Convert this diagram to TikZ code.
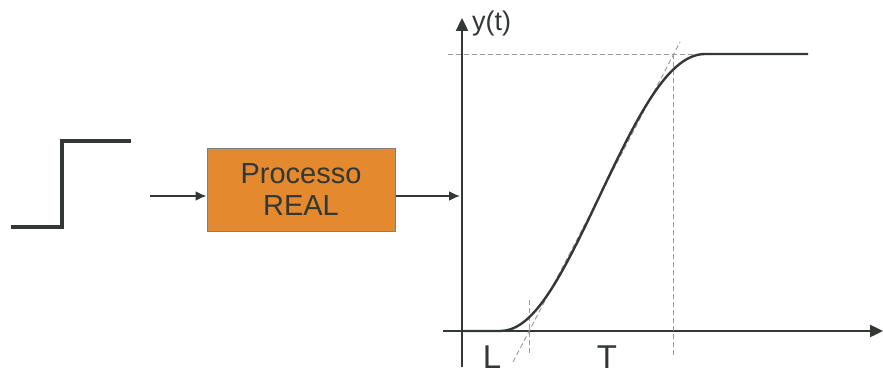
\documentclass[tikz,border=0pt]{standalone}
\usepackage{fontspec}
\setmainfont{Liberation Sans}
\usetikzlibrary{arrows.meta, positioning}
\usepackage{xcolor}
\definecolor{ink}{HTML}{333835}
\definecolor{procfill}{HTML}{E5892F}
\definecolor{procline}{HTML}{7F7F7F}
\definecolor{guide}{HTML}{999999}

\begin{document}
\begin{tikzpicture}[
      x=1pt, y=-1pt,
      proc/.style={draw=procline, line width=1pt, fill=procfill, minimum width=188pt, minimum height=82pt,
        align=center, text=ink, font=\fontsize{29}{32}\selectfont},
      arr/.style={draw=ink, line width=1.8pt, -{Latex[length=11pt, width=10pt]}},
      axis/.style={draw=ink, line width=2.4pt, -{Triangle[length=13pt, width=12pt]}},
      guideline/.style={draw=guide, line width=0.9pt, dash pattern=on 5pt off 3pt},
      lbl/.style={text=ink, inner sep=0pt}
    ]
    \useasboundingbox (0,0) rectangle (883,374);

    % step input
    \draw[ink, line width=4.5pt] (11,227) -- (62,227) -- (62,141) -- (131,141);

    % block
    \node[proc] (proc) at (301,190) {Processo\\REAL};
    \coordinate (in) at (150,196);
    \coordinate (out) at (460,196);
    \draw[arr] (in) -- (in -| proc.west);
    \draw[arr] (proc.east |- out) -- (out);

    % axes
    \coordinate (O) at (462,331);
    \coordinate (ybot) at (462,367);
    \coordinate (ytop) at (462,18);
    \coordinate (xleft) at (443,331);
    \coordinate (xright) at (883,331);
    \draw[axis] (ybot) -- (ytop);
    \draw[axis] (xleft) -- (xright);
    \node[lbl, anchor=base west, font=\fontsize{27}{27}\selectfont] (ylab) at (472,31) {y(t)};

    % guide lines
    \draw[guideline] (448,54) -- (706,54);
    \draw[guideline] (673,54) -- (673,358);
    \draw[guideline] (529,300) -- (529,355);
    \draw[guideline] (513,362) -- (680,42);

    % response
    \draw[ink, line width=2.4pt, line join=round]
      (O) -- (500,331) .. controls (530,331) and (555,290) .. (592,212)
      .. controls (632,128) and (665,54) .. (705,54) -- (808,54);

    % labels
    \node[lbl, anchor=base, font=\fontsize{33}{33}\selectfont] (L) at (492,368) {L};
    \node[lbl, anchor=base, font=\fontsize{33}{33}\selectfont] (T) at (607,368) {T};
  \end{tikzpicture}
\end{document}
